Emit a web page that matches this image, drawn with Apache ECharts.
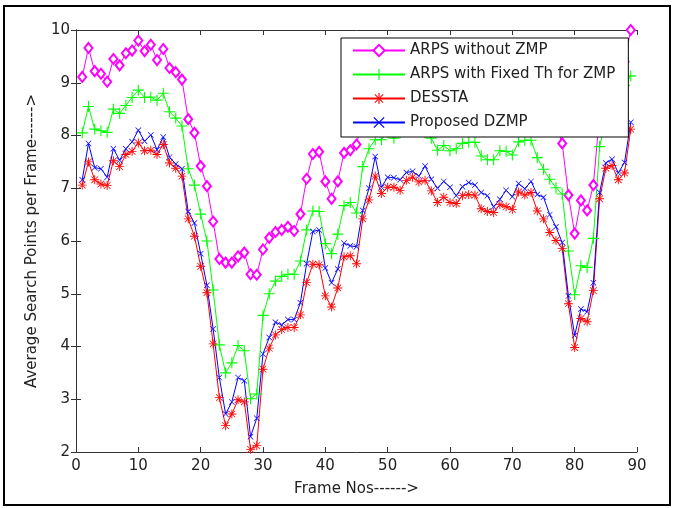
<!DOCTYPE html>
<html>
<head>
<meta charset="utf-8">
<script src="https://cdn.jsdelivr.net/npm/echarts@6/dist/echarts.min.js"></script>
<style>
  html, body { margin: 0; padding: 0; background: #fff; }
  #main { width: 673px; height: 508px; }
</style>
</head>
<body>
<div id="main"></div>
<script>
// frames 1..89
var frames = [];
for (var i = 1; i <= 89; i++) frames.push(i);

var arpsNoZmp = [9.11, 9.66, 9.22, 9.17, 9.02, 9.45, 9.33, 9.56, 9.61, 9.80,
  9.60, 9.72, 9.43, 9.64, 9.28, 9.20, 9.06, 8.31, 8.05, 7.42,
  7.04, 6.37, 5.66, 5.59, 5.59, 5.71, 5.78, 5.37, 5.36, 5.84,
  6.06, 6.17, 6.21, 6.27, 6.19, 6.51, 7.18, 7.65, 7.69, 7.13,
  6.80, 7.13, 7.67, 7.72, 7.83, 8.35, 8.80, 9.00, 8.70, 8.85,
  8.90, 8.80, 8.95, 9.00, 8.85, 8.95, 8.70, 8.50, 8.60, 8.50,
  8.55, 8.65, 8.70, 8.60, 8.45, 8.40, 8.35, 8.50, 8.45, 8.40,
  8.70, 8.65, 8.75, 8.50, 8.30, 8.20, 8.20, 7.85, 6.87, 6.14,
  6.77, 6.58, 7.06, 8.40, 9.00, 9.20, 9.10, 9.40, 10.0];

var arpsFixedTh = [8.05, 8.55, 8.12, 8.09, 8.06, 8.50, 8.42, 8.57, 8.72, 8.86,
  8.72, 8.73, 8.67, 8.80, 8.45, 8.33, 8.18, 7.37, 7.06, 6.51,
  6.00, 5.07, 4.03, 3.50, 3.69, 4.02, 3.92, 3.01, 3.10, 4.59,
  5.00, 5.24, 5.33, 5.37, 5.37, 5.62, 6.21, 6.57, 6.56, 5.95,
  5.76, 6.13, 6.67, 6.73, 6.53, 7.41, 7.75, 7.92, 7.92, 8.05,
  7.95, 8.05, 8.10, 8.15, 8.10, 8.05, 7.95, 7.72, 7.81, 7.71,
  7.75, 7.85, 7.87, 7.87, 7.61, 7.54, 7.54, 7.71, 7.70, 7.63,
  7.88, 7.91, 7.91, 7.58, 7.36, 7.17, 7.01, 6.89, 5.81, 4.98,
  5.53, 5.50, 6.05, 7.79, 8.30, 8.60, 8.80, 8.95, 9.13];

var dessta = [7.06, 7.50, 7.16, 7.08, 7.05, 7.52, 7.41, 7.64, 7.70, 7.86,
  7.71, 7.72, 7.64, 7.83, 7.48, 7.38, 7.23, 6.42, 6.09, 5.52,
  5.02, 4.05, 3.03, 2.50, 2.72, 2.99, 2.95, 2.05, 2.12, 3.57,
  3.97, 4.22, 4.32, 4.36, 4.36, 4.60, 5.21, 5.56, 5.55, 4.96,
  4.75, 5.11, 5.70, 5.72, 5.57, 6.42, 6.78, 7.23, 6.90, 7.02,
  7.02, 6.96, 7.15, 7.21, 7.12, 7.15, 6.95, 6.73, 6.83, 6.73,
  6.71, 6.86, 6.88, 6.87, 6.61, 6.56, 6.54, 6.69, 6.65, 6.60,
  6.93, 6.87, 6.92, 6.57, 6.42, 6.16, 6.01, 5.86, 4.81, 3.98,
  4.53, 4.47, 5.06, 6.80, 7.38, 7.43, 7.16, 7.29, 8.12];

var dzmp = [7.16, 7.85, 7.39, 7.37, 7.21, 7.75, 7.53, 7.75, 7.88, 8.10,
  7.89, 8.01, 7.73, 7.97, 7.59, 7.46, 7.37, 6.56, 6.34, 5.76,
  5.16, 4.33, 3.41, 2.72, 2.95, 3.41, 3.35, 2.29, 2.64, 3.86,
  4.17, 4.46, 4.41, 4.51, 4.51, 4.83, 5.57, 6.18, 6.21, 5.49,
  5.21, 5.47, 5.96, 5.91, 5.89, 6.58, 7.00, 7.60, 7.02, 7.21,
  7.20, 7.16, 7.30, 7.32, 7.23, 7.42, 7.17, 7.00, 7.13, 7.02,
  6.86, 7.03, 7.11, 7.06, 6.92, 6.86, 6.65, 6.79, 6.96, 6.84,
  7.09, 6.99, 7.13, 6.88, 6.83, 6.50, 6.27, 5.97, 4.96, 4.21,
  4.71, 4.66, 5.21, 6.92, 7.48, 7.55, 7.29, 7.49, 8.25];

var xTicks = [0, 10, 20, 30, 40, 50, 60, 70, 80, 90];
var yTicks = [2, 3, 4, 5, 6, 7, 8, 9, 10];

function pairs(vals) {
  return frames.map(function (f, k) { return [f, vals[k]]; });
}

// marker shapes (thin filled bars)
var plusPath = 'path://M4.5,0h1v10h-1zM0,4.5h10v1h-10z';
var crossPath = 'path://M0,0.8L0.8,0L10,9.2L9.2,10zM10,0.8L9.2,0L0,9.2L0.8,10z';
var starPath = 'path://M4.5,0h1v10h-1zM0,4.5h10v1h-10zM1,1.6L1.6,1L9,8.4L8.4,9zM9,1.6L8.4,1L1,8.4L1.6,9z';

var font = '"DejaVu Sans", sans-serif';
var txt = '#222';

function mkSeries(name, vals, color, symbol, size) {
  return {
    name: name,
    type: 'line',
    data: pairs(vals),
    symbol: symbol,
    symbolSize: size,
    showAllSymbol: true,
    clip: false,
    animation: false,
    lineStyle: { color: color, width: 1 },
    itemStyle: { color: color, borderWidth: symbol === 'emptyDiamond' ? 1 : 0 }
  };
}

var myChart = echarts.init(document.getElementById('main'));
var axisLine = { lineStyle: { color: '#333', width: 1 } };
var option = {
  backgroundColor: '#fff',
  animation: false,
  grid: { left: 76, top: 30, width: 561, height: 422, containLabel: false },
  graphic: [
    { type: 'rect', shape: { x: 4, y: 6, width: 666, height: 499 },
      style: { fill: 'none', stroke: '#000', lineWidth: 2 } }
  ],
  legend: {
    orient: 'vertical',
    zlevel: 1,
    left: 341, top: 38,
    padding: [5, 13, 7, 11],
    backgroundColor: '#fff',
    borderColor: '#000',
    borderWidth: 1,
    itemWidth: 52, itemHeight: 14, itemGap: 9,
    textStyle: { fontSize: 15, color: txt, fontFamily: font },
    data: ['ARPS without ZMP', 'ARPS with Fixed Th for ZMP', 'DESSTA', 'Proposed DZMP']
  },
  xAxis: [{
    type: 'value', min: xTicks[0], max: xTicks[xTicks.length - 1], interval: 10,
    name: 'Frame Nos------>', nameLocation: 'middle', nameGap: 30,
    nameTextStyle: { fontSize: 15, color: txt, fontFamily: font },
    axisLine: axisLine,
    axisTick: { inside: true, length: 5, lineStyle: { color: '#333' } },
    axisLabel: { fontSize: 15, color: txt, fontFamily: font, margin: 7 },
    splitLine: { show: false }
  }, {
    type: 'value', position: 'top', min: 0, max: 90, interval: 10,
    axisLine: axisLine,
    axisTick: { inside: true, length: 5, lineStyle: { color: '#333' } },
    axisLabel: { show: false }, splitLine: { show: false }
  }],
  yAxis: [{
    type: 'value', min: yTicks[0], max: yTicks[yTicks.length - 1], interval: 1,
    name: 'Average Search Points per Frame------>', nameLocation: 'middle', nameGap: 36,
    nameTextStyle: { fontSize: 15, color: txt, fontFamily: font },
    axisLine: axisLine,
    axisTick: { inside: true, length: 5, lineStyle: { color: '#333' } },
    axisLabel: { fontSize: 15, color: txt, fontFamily: font, margin: 6 },
    splitLine: { show: false }
  }, {
    type: 'value', position: 'right', min: 2, max: 10, interval: 1,
    axisLine: axisLine,
    axisTick: { inside: true, length: 5, lineStyle: { color: '#333' } },
    axisLabel: { show: false }, splitLine: { show: false }
  }],
  series: [
    mkSeries('ARPS without ZMP', arpsNoZmp, '#ff00ff', 'emptyDiamond', [8, 10]),
    mkSeries('ARPS with Fixed Th for ZMP', arpsFixedTh, '#00ff00', plusPath, 11),
    mkSeries('DESSTA', dessta, '#ff0000', starPath, 9),
    mkSeries('Proposed DZMP', dzmp, '#0000ff', crossPath, 6)
  ]
};
myChart.setOption(option);
</script>
</body>
</html>
